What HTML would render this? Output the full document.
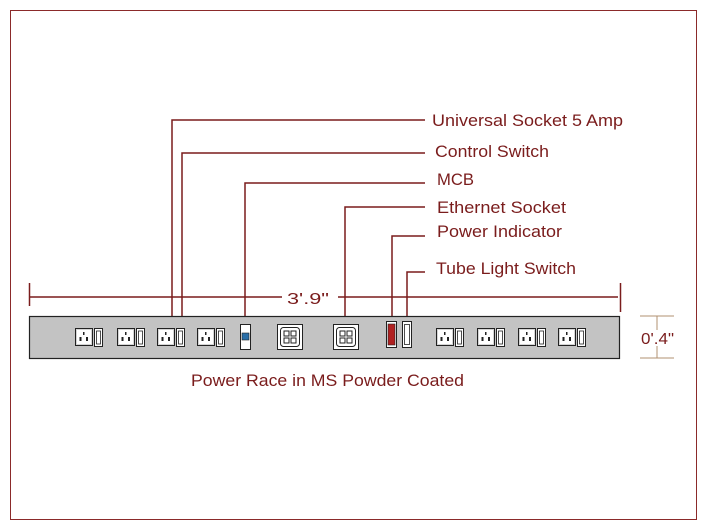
<!DOCTYPE html>
<html><head><style>
html,body{margin:0;padding:0;background:#fff;}
svg{display:block;}
text{font-family:"Liberation Sans",sans-serif;fill:#7a1c1c;}
</style></head><body>
<svg width="706" height="530" viewBox="0 0 706 530" xmlns="http://www.w3.org/2000/svg">
<rect x="10.5" y="10.5" width="686" height="509" fill="#fff" stroke="#8b2a2a" stroke-width="1"/>
<g stroke="#7a1c1c" stroke-width="1.5" fill="none">
<polyline points="425,120 172,120 172,326"/>
<polyline points="425,153 182,153 182,326"/>
<polyline points="425,183 245,183 245,324"/>
<polyline points="425,207 345,207 345,324"/>
<polyline points="425,236 392,236 392,320"/>
<polyline points="425,272 407,272 407,320"/>
<line x1="29" y1="297" x2="282" y2="297"/>
<line x1="338" y1="297" x2="618" y2="297"/>
<line x1="29.5" y1="283" x2="29.5" y2="306"/>
<line x1="620.5" y1="283" x2="620.5" y2="312"/>
</g>
<g stroke="#b09070" stroke-width="1">
<line x1="657" y1="316" x2="657" y2="330"/>
<line x1="657" y1="346" x2="657" y2="358"/>
<line x1="640" y1="316" x2="674" y2="316"/>
<line x1="640" y1="358" x2="674" y2="358"/>
</g>
<text x="432" y="126" font-size="17" textLength="191" lengthAdjust="spacingAndGlyphs">Universal Socket 5 Amp</text>
<text x="435" y="157" font-size="17" textLength="114" lengthAdjust="spacingAndGlyphs">Control Switch</text>
<text x="437" y="185" font-size="17" textLength="37" lengthAdjust="spacingAndGlyphs">MCB</text>
<text x="437" y="213" font-size="17" textLength="129" lengthAdjust="spacingAndGlyphs">Ethernet Socket</text>
<text x="437" y="237" font-size="17" textLength="125" lengthAdjust="spacingAndGlyphs">Power Indicator</text>
<text x="436" y="274" font-size="17" textLength="140" lengthAdjust="spacingAndGlyphs">Tube Light Switch</text>
<text x="287" y="304" font-size="16" textLength="42" lengthAdjust="spacingAndGlyphs">3'.9"</text>
<text x="641" y="344" font-size="16" textLength="33" lengthAdjust="spacingAndGlyphs">0'.4"</text>
<text x="191" y="386" font-size="17" textLength="273" lengthAdjust="spacingAndGlyphs">Power Race in MS Powder Coated</text>
<rect x="29.5" y="316.5" width="590" height="42" fill="#c3c3c3" stroke="#222" stroke-width="1.2"/>
<defs>
<g id="s">
<rect x="0.5" y="0.5" width="17" height="17" fill="#fff" stroke="#222"/>
<rect x="1.5" y="1.5" width="15" height="15" fill="none" stroke="#aaa" stroke-width="0.5"/>
<rect x="8" y="4" width="1.5" height="3" fill="#222"/>
<rect x="4.5" y="9" width="2" height="4" fill="#222"/>
<rect x="11" y="9" width="2" height="4" fill="#222"/>
<rect x="19.5" y="0.5" width="8" height="18" fill="#fff" stroke="#222"/>
<rect x="21.5" y="3" width="4" height="13" fill="#fff" stroke="#222" stroke-width="0.8"/>
</g>
<g id="e">
<rect x="0.5" y="0.5" width="25" height="25" fill="#fff" stroke="#222"/>
<rect x="3.5" y="3.5" width="19" height="19" rx="3" fill="#fff" stroke="#222"/>
<rect x="7" y="7" width="5" height="5" fill="none" stroke="#222"/>
<rect x="14" y="7" width="5" height="5" fill="none" stroke="#222"/>
<rect x="7" y="14" width="5" height="5" fill="none" stroke="#222"/>
<rect x="14" y="14" width="5" height="5" fill="none" stroke="#222"/>
</g>
</defs>
<use href="#s" x="75" y="328"/>
<use href="#s" x="117" y="328"/>
<use href="#s" x="157" y="328"/>
<use href="#s" x="197" y="328"/>
<use href="#s" x="436" y="328"/>
<use href="#s" x="477" y="328"/>
<use href="#s" x="518" y="328"/>
<use href="#s" x="558" y="328"/>
<rect x="240.5" y="324.5" width="10" height="25" fill="#fff" stroke="#222"/>
<rect x="242" y="333" width="7" height="7" fill="#2a6fa8" stroke="#222" stroke-width="0.6"/>
<use href="#e" x="277" y="324"/>
<use href="#e" x="333" y="324"/>
<rect x="386.5" y="321.5" width="10" height="26" fill="#fff" stroke="#222"/>
<rect x="388" y="324" width="7" height="21" fill="#b02020" stroke="#222" stroke-width="0.6"/>
<rect x="402.5" y="321.5" width="9" height="26" fill="#fff" stroke="#222"/>
<rect x="404.5" y="324.5" width="5" height="20" fill="#fff" stroke="#222" stroke-width="0.8"/>
</svg>
</body></html>
